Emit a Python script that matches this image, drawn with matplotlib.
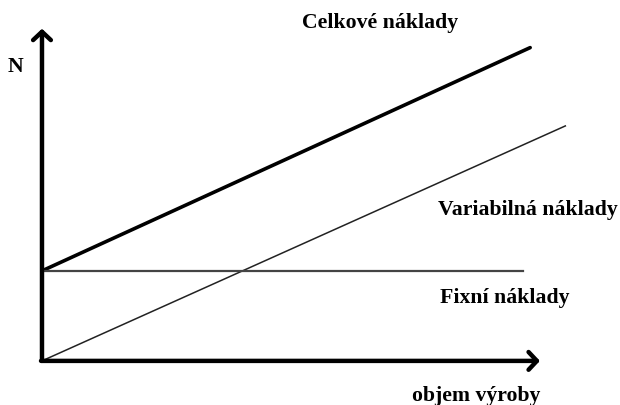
import matplotlib
matplotlib.use("Agg")
import matplotlib.pyplot as plt

# objem výroby (x) and náklady (y) for the three cost lines
vol_celkove = [0, 10.0]
celkove = [2.0, 6.96]
vol_variabilne = [0, 10.72]
variabilne = [0, 5.22]
vol_fixne = [0, 9.86]
fixne = [2.0, 2.0]

labels = {
    "celkove": "Celkové náklady",
    "variabilne": "Variabilná náklady",
    "fixne": "Fixní náklady",
    "x": "objem výroby",
    "y": "N",
}

W, H = 620, 406
fig = plt.figure(figsize=(W / 100, H / 100), dpi=100)
ax = fig.add_axes([0, 0, 1, 1])
ax.set_xlim(-0.86, 11.84)
ax.set_ylim(-0.98, 8.04)
ax.axis("off")

# axes with chevron arrows
arrow = dict(arrowstyle="->,head_width=0.32,head_length=0.3", color="black",
             lw=3.2, shrinkA=0, shrinkB=0, mutation_scale=20,
             capstyle="round", joinstyle="round")
ax.annotate("", xy=(0, 7.38), xytext=(0, 0), arrowprops=arrow)
ax.annotate("", xy=(10.2, 0), xytext=(-0.02, 0), arrowprops=arrow)

ax.plot(vol_celkove, celkove, color="black", lw=2.6, solid_capstyle="round")
ax.plot(vol_variabilne, variabilne, color="#222222", lw=1.1)
ax.plot(vol_fixne, fixne, color="#444444", lw=1.6)

font = dict(family="Liberation Serif", weight="bold", fontsize=15.7,
            color="black", va="baseline", ha="left")


def px_text(x, y, s):
    fig.text(x / W, 1 - y / H, s, **font)


px_text(302, 28, labels["celkove"])
px_text(438, 215, labels["variabilne"])
px_text(440, 303, labels["fixne"])
px_text(412, 401, labels["x"])
px_text(8, 72, labels["y"])

fig.savefig("out.png", dpi=100, facecolor="white")
